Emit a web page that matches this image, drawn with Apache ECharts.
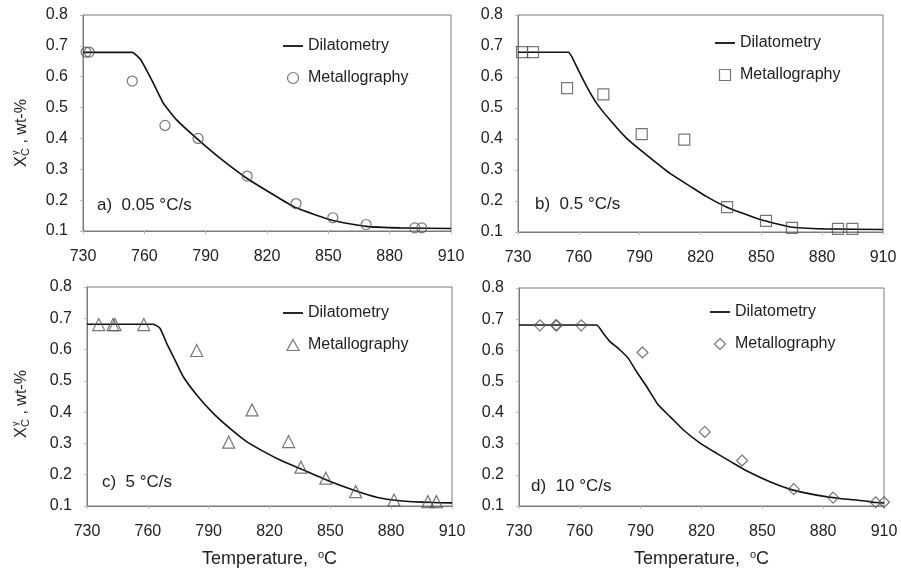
<!DOCTYPE html>
<html>
<head>
<meta charset="utf-8">
<script src="https://cdn.jsdelivr.net/npm/echarts@6/dist/echarts.min.js"></script>
<style>
  html, body { margin: 0; padding: 0; background: #fff; }
  #main { width: 901px; height: 574px; }
</style>
</head>
<body>
<div id="main"></div>
<script>
// x ticks / y ticks
var xTicks = [730, 760, 790, 820, 850, 880, 910];
var yTicks = [0.1, 0.2, 0.3, 0.4, 0.5, 0.6, 0.7, 0.8];

// a) 0.05 °C/s
var dilA = [[730, 0.679], [754.1, 0.679], [758.3, 0.654], [764.4, 0.579], [769.3, 0.514], [775.8, 0.46],
  [785.6, 0.40], [797, 0.336], [810.1, 0.271], [824.8, 0.211], [834.2, 0.175], [852.2, 0.134],
  [868.5, 0.115], [885.3, 0.11], [910, 0.108]];
var metA = [[731.5, 0.68], [733, 0.68], [754.1, 0.586], [770.1, 0.442], [786.3, 0.40], [810.3, 0.278],
  [834.2, 0.189], [852.2, 0.143], [868.5, 0.121], [892.3, 0.11], [895.7, 0.11]];

// b) 0.5 °C/s
var dilB = [[730, 0.68], [754.8, 0.68], [756.5, 0.666], [759.7, 0.623], [763.9, 0.569], [768.8, 0.515],
  [775.4, 0.461], [783.6, 0.402], [793.5, 0.348], [805, 0.289], [816.4, 0.241], [823, 0.214],
  [833, 0.18], [849.5, 0.14], [864.3, 0.116], [880.7, 0.11], [910, 0.108]];
var metB = [[732, 0.68], [737.4, 0.68], [754.2, 0.564], [772.1, 0.544], [791, 0.416], [812, 0.398],
  [833.1, 0.18], [852.3, 0.136], [865.1, 0.113], [887.8, 0.11], [894.9, 0.11]];

// c) 5 °C/s
var dilC = [[730, 0.681], [762.7, 0.681], [766, 0.668], [769.3, 0.62], [772.6, 0.577], [777.5, 0.513],
  [784.1, 0.455], [792.3, 0.396], [800.5, 0.348], [808.7, 0.306], [818.6, 0.269], [825.2, 0.247],
  [835, 0.22], [848.1, 0.183], [861.3, 0.151], [872.8, 0.128], [884.3, 0.117], [900.8, 0.111], [910, 0.11]];
var metC = [[735.8, 0.68], [742.8, 0.68], [743.8, 0.68], [758, 0.68], [784.1, 0.597], [799.9, 0.304],
  [811.4, 0.407], [829.4, 0.306], [835.5, 0.224], [847.8, 0.189], [862.5, 0.146], [881.4, 0.119],
  [898.1, 0.114], [902.3, 0.114]];

// d) 10 °C/s
var dilD = [[730, 0.681], [768.3, 0.681], [771.6, 0.654], [774.9, 0.628], [779.8, 0.601], [783.9, 0.574],
  [788, 0.531], [793, 0.483], [798.7, 0.424], [804.5, 0.387], [811.1, 0.344], [819.3, 0.302],
  [827.5, 0.269], [835, 0.24], [842.2, 0.213], [853.7, 0.178], [865.2, 0.151], [876.7, 0.135],
  [888.2, 0.124], [899.7, 0.117], [906.2, 0.111], [910, 0.11]];
var metD = [[740.3, 0.68], [748.2, 0.68], [748.6, 0.68], [760.7, 0.68], [790.9, 0.593], [821.6, 0.338],
  [840, 0.246], [865.5, 0.154], [884.9, 0.127], [905.9, 0.112], [910, 0.112]];

var panelLabels = ['a)  0.05 \u00b0C/s', 'b)  0.5 \u00b0C/s', 'c)  5 \u00b0C/s', 'd)  10 \u00b0C/s'];
var symbols = ['circle', 'rect', 'triangle', 'diamond'];
var legendIcons = [
  'circle',
  'path://M0,0 L10,0 L10,10 L0,10 Z',
  'path://M5.5,0 L11,10 L0,10 Z',
  'path://M5,0 L10,5 L5,10 L0,5 Z'
];
var lineIcon = 'path://M0,0 L20,0 L20,1.8 L0,1.8 Z';

var font = 'Liberation Sans';
var txt = '#222';
var boxColor = '#7a7a7a';
var markColor = '#555';

var grids = [
  { left: 83, top: 15, width: 368, height: 216 },
  { left: 518, top: 15, width: 365, height: 217 },
  { left: 87, top: 287, width: 365, height: 219 },
  { left: 519, top: 288, width: 365, height: 218 }
];
grids.forEach(function (g) { g.show = true; g.borderColor = boxColor; g.borderWidth = 1; });

var xAxes = [], yAxes = [], series = [], legends = [];
var dils = [dilA, dilB, dilC, dilD];
var mets = [metA, metB, metC, metD];
var legendPos = [[283, 38], [715, 35], [283, 305], [710, 304]];
var symSizes = [10, 11, 12, 11];

for (var i = 0; i < 4; i++) {
  xAxes.push({
    type: 'value', gridIndex: i, min: 730, max: 910, interval: 30,
    name: i >= 2 ? '{t|Temperature,  }{s|o}{t|C}' : '',
    nameLocation: 'middle', nameGap: 43,
    nameTextStyle: {
      rich: {
        t: { fontFamily: font, fontSize: 18, color: txt },
        s: { fontFamily: font, fontSize: 11, color: txt, padding: [0, 0, 10, 0] }
      }
    },
    axisLine: { show: true, lineStyle: { color: boxColor } },
    axisTick: { show: true, length: 3, lineStyle: { color: '#bbb' } },
    axisLabel: { fontFamily: font, fontSize: 16, color: txt, margin: 18 },
    splitLine: { show: false }
  });
  yAxes.push({
    type: 'value', gridIndex: i, min: 0.1, max: 0.8, interval: 0.1,
    axisLine: { show: true, lineStyle: { color: boxColor } },
    axisTick: { show: true, length: 3, lineStyle: { color: '#bbb' } },
    axisLabel: {
      fontFamily: font, fontSize: 16, color: txt, margin: 15,
      formatter: function (v) { return v.toFixed(1); }
    },
    splitLine: { show: false }
  });
  series.push({
    name: 'Dilatometry', type: 'line', xAxisIndex: i, yAxisIndex: i,
    data: dils[i], symbol: 'none', smooth: 0.15,
    itemStyle: { color: '#111' },
    lineStyle: { color: '#111', width: 1.6 }, z: 2
  });
  series.push({
    name: 'Metallography', type: 'scatter', xAxisIndex: i, yAxisIndex: i,
    data: mets[i], symbol: symbols[i], symbolSize: symSizes[i],
    itemStyle: { color: 'rgba(255,255,255,0)', borderColor: markColor, borderWidth: 1.2 }, z: 3
  });
  legends.push({
    orient: 'vertical', left: legendPos[i][0], top: legendPos[i][1], padding: 0,
    itemWidth: 20, itemHeight: 11, itemGap: 16, selectedMode: false,
    symbolKeepAspect: true,
    textStyle: { fontFamily: font, fontSize: 16, color: txt },
    data: [
      { name: 'Dilatometry', icon: lineIcon, itemStyle: { color: '#111', borderWidth: 0 } },
      { name: 'Metallography', icon: legendIcons[i],
        itemStyle: { color: '#fff', borderColor: markColor, borderWidth: 1.2 } }
    ]
  });
}

var labelPos = [[97, 205], [535, 204], [102, 482], [531, 486]];
var graphics = labelPos.map(function (p, k) {
  return {
    type: 'text', x: p[0], y: p[1],
    style: { text: panelLabels[k], font: '17px "' + font + '"', fill: txt, verticalAlign: 'middle' }
  };
});

// y axis titles  X_C^γ , wt-%
[[22, 167], [22, 438]].forEach(function (p) {
  graphics.push({
    type: 'group', x: p[0], y: p[1], rotation: Math.PI / 2,
    children: [
      { type: 'text', x: 0, y: 0, style: { text: 'X', font: '16px "' + font + '"', fill: txt, verticalAlign: 'middle' } },
      { type: 'text', x: 11, y: 4, style: { text: 'C', font: '11px "' + font + '"', fill: txt, verticalAlign: 'middle' } },
      { type: 'text', x: 12, y: -6, style: { text: '\u03b3', font: '9px "' + font + '"', fill: txt, verticalAlign: 'middle' } },
      { type: 'text', x: 19, y: 0, style: { text: ' , wt-%', font: '16px "' + font + '"', fill: txt, verticalAlign: 'middle' } }
    ]
  });
});

var myChart = echarts.init(document.getElementById('main'), null, { renderer: 'canvas' });
var option = {
  animation: false,
  backgroundColor: '#fff',
  grid: grids,
  xAxis: xAxes,
  yAxis: yAxes,
  legend: legends,
  series: series,
  graphic: graphics
};
myChart.setOption(option);
</script>
</body>
</html>
